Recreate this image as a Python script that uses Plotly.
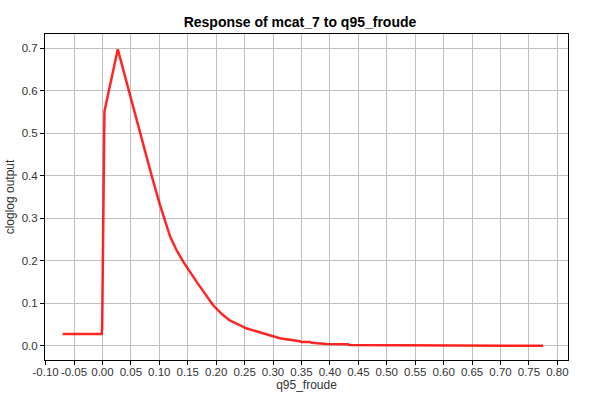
import plotly.graph_objects as go

# response curve
froude = [-0.070, -0.0015, -0.0005, 0.0035, 0.027, 0.0475, 0.074, 0.076, 0.087,
          0.101, 0.119, 0.130, 0.142, 0.166, 0.180, 0.195, 0.210, 0.224, 0.254,
          0.271, 0.289, 0.312, 0.347, 0.350, 0.365, 0.368, 0.394, 0.432, 0.434,
          0.550, 0.553, 0.775]
output = [0.028, 0.028, 0.040, 0.551, 0.697, 0.595, 0.461, 0.447, 0.398,
          0.332, 0.257, 0.226, 0.198, 0.150, 0.122, 0.095, 0.075, 0.060, 0.041,
          0.034, 0.026, 0.018, 0.011, 0.0095, 0.0094, 0.0075, 0.0047, 0.0040, 0.0022,
          0.0020, 0.0004, 0.0004]

x_ticks = [round(-0.10 + 0.05 * i, 2) for i in range(19)]
y_ticks = [0.0, 0.1, 0.2, 0.3, 0.4, 0.5, 0.6, 0.7]

FONT = "Liberation Sans, Arial, sans-serif"

fig = go.Figure(
    go.Scatter(
        x=froude, y=output, mode="lines",
        line=dict(color="rgba(255,0,0,0.85)", width=2.5),
        showlegend=False,
    )
)

axis_common = dict(
    showgrid=True, gridcolor="#c0c0c0", gridwidth=1,
    showline=True, linecolor="black", linewidth=1, mirror=True,
    ticks="outside", ticklen=4, tickcolor="black",
    zeroline=False, automargin=False,
    tickfont=dict(family=FONT, size=11.5, color="#333333"),
)

fig.update_layout(
    width=600, height=400,
    paper_bgcolor="white", plot_bgcolor="white",
    margin=dict(l=45, r=32, t=34, b=40),
    font=dict(family=FONT, size=12, color="#333333"),
    title=dict(
        text="<b>Response of mcat_7 to q95_froude</b>",
        x=0.5, xref="container", xanchor="center",
        y=1 - 22 / 400, yref="container", yanchor="middle",
        font=dict(family=FONT, size=14, color="black"),
    ),
    xaxis=dict(
        axis_common, range=[-0.101, 0.8187], tickangle=0, ticklabelstandoff=-3,
        tickvals=x_ticks, ticktext=[f"{v:.2f}" for v in x_ticks],
        title=dict(text="q95_froude", standoff=2, font=dict(size=12)),
    ),
    yaxis=dict(
        axis_common, range=[-0.033, 0.733],
        tickvals=y_ticks, ticktext=[f"{v:.1f}" for v in y_ticks],
        title=dict(text="cloglog output", standoff=4, font=dict(size=12)),
    ),
)

# drop the default 8px page margin so the chart sits at the window corner
fig.write_html(
    "out.html",
    config={"displayModeBar": False},
    post_script="document.body.style.margin='0';",
)
